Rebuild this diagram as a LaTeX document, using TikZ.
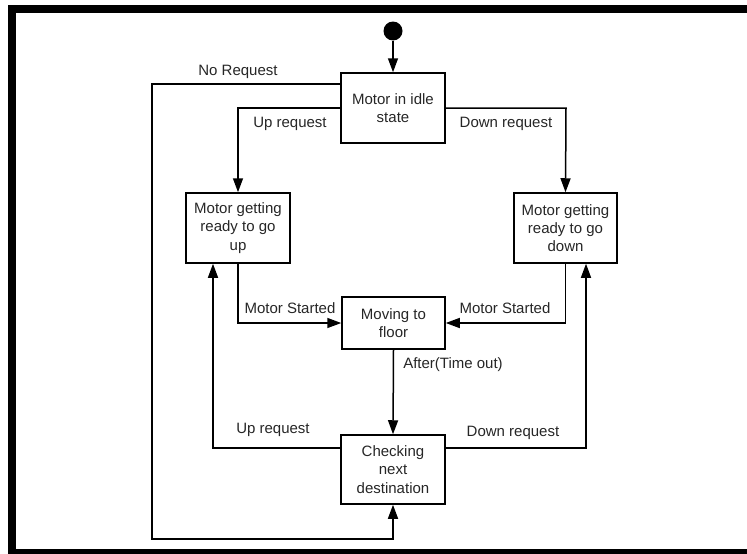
\documentclass[tikz,border=0pt]{standalone}
\usepackage{fontspec}
\setmainfont{Liberation Sans}
\usetikzlibrary{arrows.meta}
\begin{document}
\begin{tikzpicture}[x=1pt,y=-1pt,
  state/.style={draw, line width=1.5pt, align=center, inner sep=0pt,
    font=\fontsize{15}{18.3}\selectfont, text=black!85},
  lbl/.style={inner sep=0pt, font=\fontsize{15}{18}\selectfont, text=black!85},
  conn/.style={line width=1.5pt, -{Triangle[length=14pt,width=10pt]}}]
\useasboundingbox (0,0) rectangle (747,554);
\draw[line width=8pt] (12,9) rectangle (757,553);
% nodes
\node[circle, fill=black, minimum size=19pt, inner sep=0pt] (init) at (393,31) {};
\node[state, minimum width=104pt, minimum height=70pt] (idle) at (393,108) {Motor in idle\\state};
\node[state, minimum width=104pt, minimum height=70pt] (up) at (238,228) {Motor getting\\ready to go\\up};
\node[state, minimum width=103pt, minimum height=70pt] (down) at (565.5,228) {Motor getting\\ready to go\\down};
\node[state, minimum width=103pt, minimum height=52pt] (move) at (393.5,323) {Moving to\\floor};
\node[state, minimum width=104pt, minimum height=69pt] (check) at (393,469.5) {Checking\\next\\destination};
% helper coordinates
\coordinate (nrA) at (152,84);
\coordinate (nrB) at (152,539);
\coordinate (urA) at (238,108);
\coordinate (drA) at (566,108);
\coordinate (cuA) at (213,448);
\coordinate (cdA) at (586,448);
% connectors
\draw[conn] (init) -- (idle);
\draw[conn] (idle.west |- nrA) -- (nrA) -- (nrB) -| (check.south);
\draw[conn] (idle.west |- urA) -- (urA) -- (up.north);
\draw[conn] (idle.east |- drA) -- (drA) -- (down.north);
\draw[conn] (up.south) |- (move.west);
\draw[conn] (down.south) |- (move.east);
\draw[conn] (move.south) -- (check.north);
\draw[conn] (check.west |- cuA) -- (cuA) -- (cuA |- up.south);
\draw[conn] (check.east |- cdA) -- (cdA) -- (cdA |- down.south);
% labels
\node[lbl] (lnr) at (238,72) {No Request};
\node[lbl] (lur) at (290,124) {Up request};
\node[lbl] (ldr) at (506,124) {Down request};
\node[lbl] (lms1) at (290,308) {Motor Started};
\node[lbl] (lms2) at (505,308) {Motor Started};
\node[lbl] (lto) at (453,365) {After(Time out)};
\node[lbl] (lur2) at (273,430) {Up request};
\node[lbl] (ldr2) at (513,433) {Down request};
\end{tikzpicture}
\end{document}
